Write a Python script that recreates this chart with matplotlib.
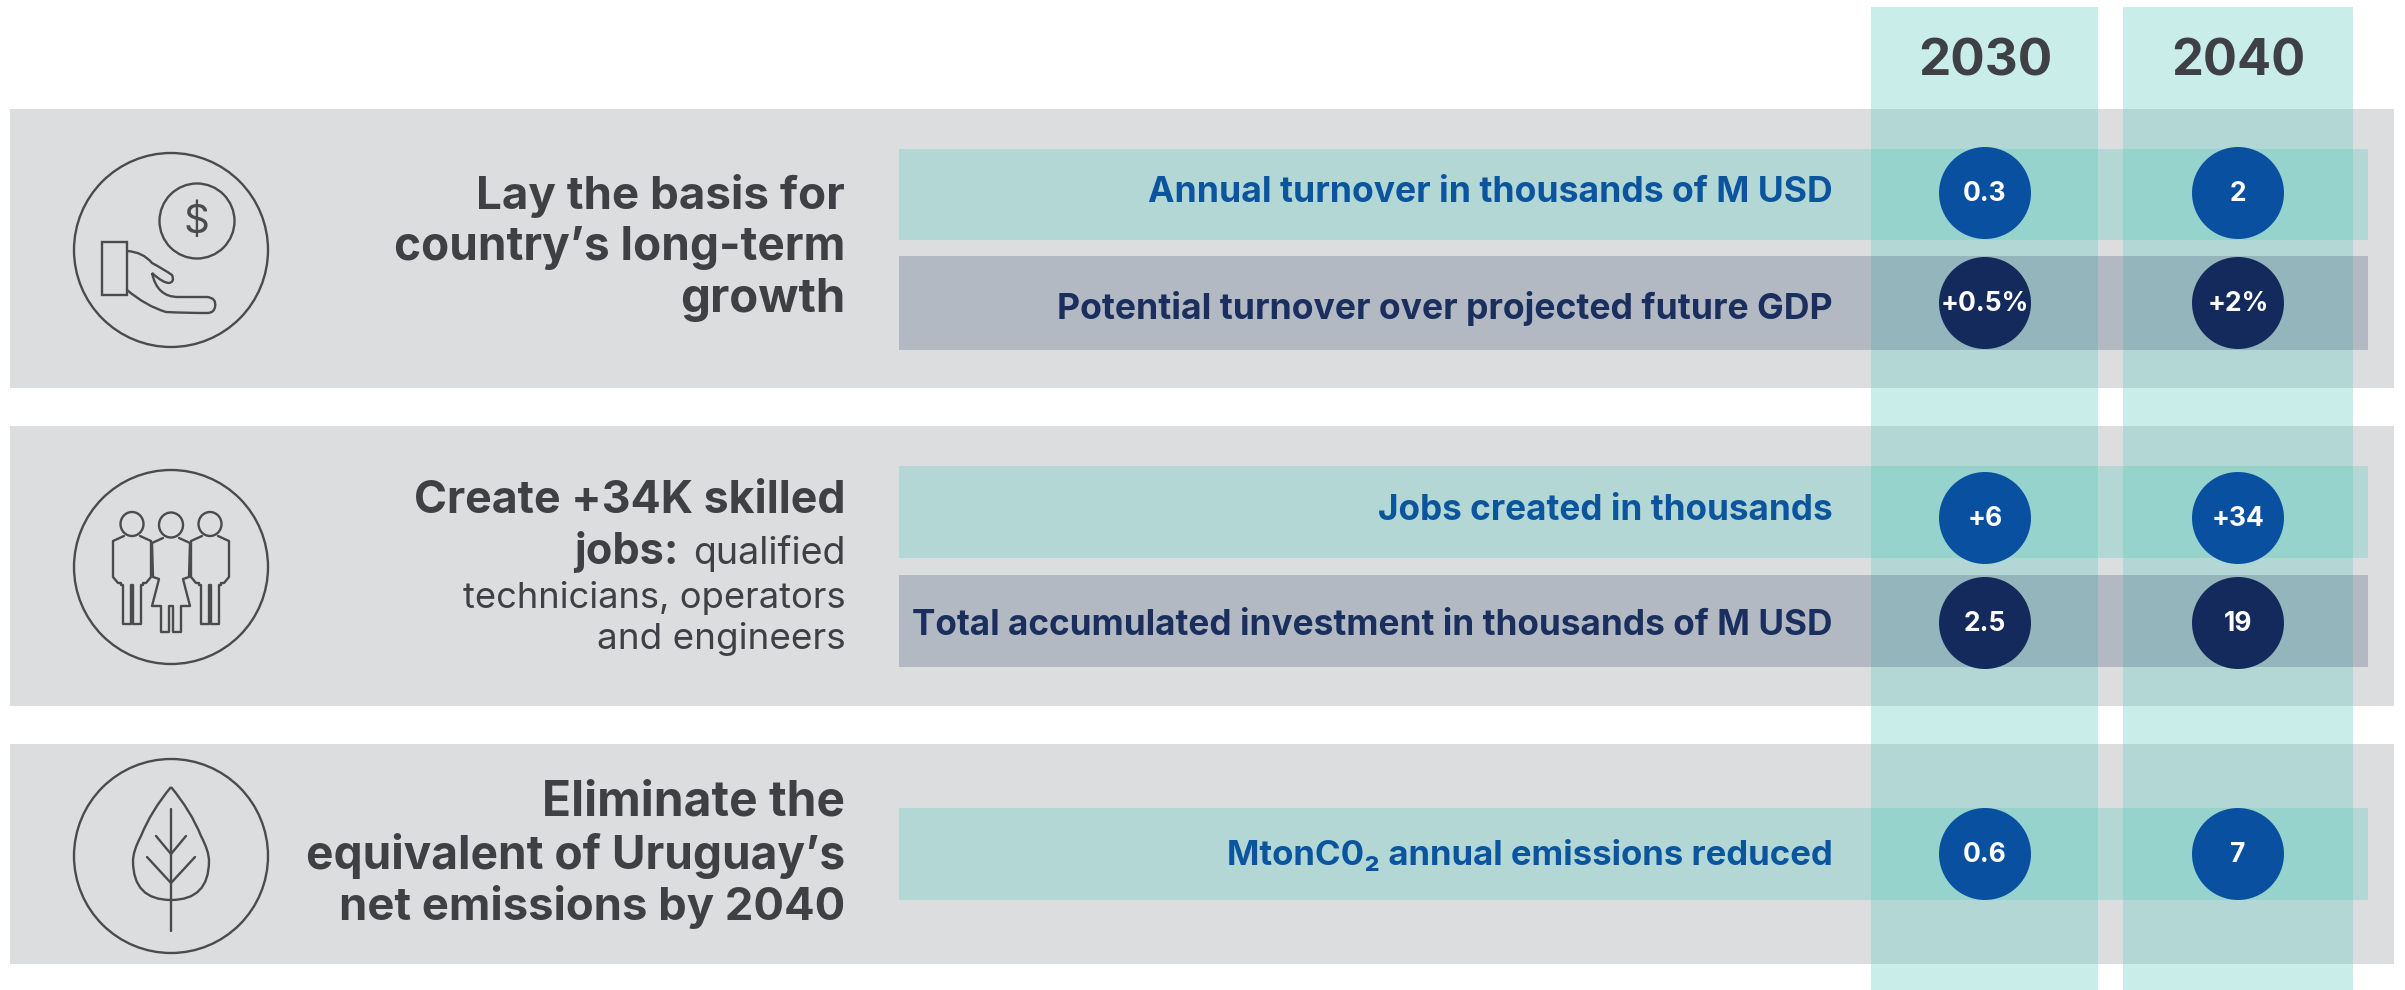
import matplotlib
matplotlib.use("Agg")
import matplotlib.pyplot as plt
from matplotlib.patches import Circle, Ellipse, Rectangle, PathPatch
from matplotlib.path import Path

plt.rcParams['font.family'] = ['Inter', 'DejaVu Sans']

# chart data
years = ["2030", "2040"]
row_labels = [
    "Annual turnover in thousands of M USD",
    "Potential turnover over projected future GDP",
    "Jobs created in thousands",
    "Total accumulated investment in thousands of M USD",
    "MtonC0₂ annual emissions reduced",
]
values_2030 = ["0.3", "+0.5%", "+6", "2.5", "0.6"]
values_2040 = ["2", "+2%", "+34", "19", "7"]
row_kinds = ["teal", "navy", "teal", "navy", "teal"]

# layout, in pixels of the picture
W, H = 2405, 990
panels_y = [(109, 388), (426, 706), (744, 964)]
icons_y = [250, 567, 856]
cols_x = [(1871, 2098), (2123, 2353)]
col_centres = [1985, 2238]
rows_y = [(149, 240), (256, 350), (466, 558), (575, 667), (808, 900)]
circles_y = [193, 303, 518, 623, 854]
label_base = [202, 319, 520, 635, 865]
label_left = [1147, 1054, 1377, 910, 1224]

GREY = "#DCDDDF"
TEAL = "#65CEC0"
NAVY_STRIP = "#536885"
DARK = "#3E4044"
LINE = "#4A4B4D"
BLUE = "#0A50A1"
NAVY = "#152A5C"

fig = plt.figure(figsize=(W / 100, H / 100), dpi=100)
ax = fig.add_axes([0, 0, 1, 1])
ax.set_xlim(0, W)
ax.set_ylim(H, 0)
ax.axis("off")
renderer = fig.canvas.get_renderer()


def fit_text(x, y, s, width, color, weight="bold", size=30, ha="right", z=10):
    # the font is not the original one, so scale it to the width in the picture
    t = ax.text(x, y, s, color=color, fontweight=weight, fontsize=size, ha=ha, va="baseline", zorder=z)
    t.set_fontsize(size * width / t.get_window_extent(renderer).width)
    return t


def stroke(cx, cy, pts, closed=False):
    xs = [cx + p[0] for p in pts]
    ys = [cy + p[1] for p in pts]
    if closed:
        xs.append(xs[0])
        ys.append(ys[0])
    ax.plot(xs, ys, color=LINE, lw=1.7, solid_joinstyle="round", solid_capstyle="round", zorder=6)


def curve(cx, cy, verts):
    # verts: start point then (control, end) pairs
    codes = [Path.MOVETO] + [Path.CURVE3] * (len(verts) - 1)
    p = Path([(cx + a, cy + b) for a, b in verts], codes)
    ax.add_patch(PathPatch(p, fc="none", ec=LINE, lw=1.7, zorder=6))


def hand_icon(cx, cy):
    ax.add_patch(Circle((cx + 26, cy - 29), 37.5, fc="none", ec=LINE, lw=1.7, zorder=6))
    ax.text(cx + 26, cy - 28, "$", color=LINE, fontsize=29, ha="center", va="center", zorder=6)
    ax.add_patch(Rectangle((cx - 69, cy - 8), 25, 53, fc="none", ec=LINE, lw=1.7, zorder=6))
    curve(cx, cy, [(-44, 1), (-28, 2), (-19, 13), (-6, 20), (1, 25), (4, 32), (-2, 33),
                   (-8, 33), (-19, 23), (-14, 47), (7, 47), (25, 47), (36, 47),
                   (46, 48), (44, 57), (43, 63), (36, 63), (14, 63), (-5, 62), (-25, 56), (-44, 40)])


def person(cx, cy):
    ax.add_patch(Ellipse((cx, cy - 43), 23, 24, fc="none", ec=LINE, lw=1.7, zorder=6))
    stroke(cx, cy, [(-8, -31), (-19, -26), (-19, 10), (-14, 16), (-11, 16), (-11, 18), (-9, 18),
                    (-9, 57), (-1, 57), (-1, 18), (1, 18), (1, 57), (9, 57), (9, 18),
                    (11, 18), (11, 16), (14, 16), (19, 10), (19, -26), (8, -31)])


def dress_person(cx, cy):
    ax.add_patch(Ellipse((cx, cy - 42), 24, 25, fc="none", ec=LINE, lw=1.7, zorder=6))
    stroke(cx, cy, [(-8, -29), (-19, -24), (-18, 10), (-12, 12), (-19, 39), (-10, 39), (-10, 65),
                    (-2, 65), (-2, 39), (2, 39), (2, 65), (10, 65), (10, 39), (19, 39),
                    (12, 12), (18, 10), (19, -24), (8, -29)])


def people_icon(cx, cy):
    person(cx - 39, cy)
    person(cx + 39, cy)
    dress_person(cx, cy)


def leaf_icon(cx, cy):
    curve(cx, cy, [(0, -69), (-20, -45), (-30, -20), (-38, -5), (-38, 5), (-38, 44), (0, 44),
                   (38, 44), (38, 5), (38, -5), (30, -20), (20, -45), (0, -69)])
    stroke(cx, cy, [(0, -47), (0, 75)])
    for top, dx, dy in [(-2, 15, -18), (27, 24, -26)]:
        stroke(cx, cy, [(-dx, top + dy), (0, top), (dx, top + dy)])


# background panels
for y0, y1 in panels_y:
    ax.add_patch(Rectangle((10, y0), 2384, y1 - y0, fc=GREY, ec="none", zorder=1))

# year columns
for (x0, x1), year, xc in zip(cols_x, years, col_centres):
    ax.add_patch(Rectangle((x0, 7), x1 - x0, H - 7, fc=TEAL, alpha=0.35, ec="none", zorder=2))
    fit_text(xc, 75, year, 134, DARK, ha="center")

# rows with their labels and the circles of values
for i, label in enumerate(row_labels):
    y0, y1 = rows_y[i]
    if row_kinds[i] == "teal":
        ax.add_patch(Rectangle((899, y0), 1469, y1 - y0, fc=TEAL, alpha=0.35, ec="none", zorder=3))
        txt_col, circ_col = "#0B559F", BLUE
    else:
        ax.add_patch(Rectangle((899, y0), 1469, y1 - y0, fc=NAVY_STRIP, alpha=0.3, ec="none", zorder=3))
        txt_col, circ_col = "#1B2F5E", NAVY
    fit_text(1833, label_base[i], label, 1833 - label_left[i], txt_col, size=24)
    for xc, val in zip(col_centres, (values_2030[i], values_2040[i])):
        ax.add_patch(Circle((xc, circles_y[i]), 46, fc=circ_col, ec="none", zorder=5))
        ax.text(xc, circles_y[i] + 1, val, color="white", fontweight="bold", fontsize=19,
                ha="center", va="center", zorder=7)

# left hand headings
fit_text(845, 209, "Lay the basis for", 369, DARK)
fit_text(845, 260, "country’s long-term", 451, DARK)
fit_text(845, 312, "growth", 165, DARK)

fit_text(845, 513, "Create +34K skilled", 432, DARK)
fit_text(678, 564, "jobs:", 104, DARK)
fit_text(846, 564, "qualified", 153, DARK, weight="normal", size=24)
fit_text(846, 608, "technicians, operators", 384, DARK, weight="normal", size=24)
fit_text(846, 649, "and engineers", 249, DARK, weight="normal", size=24)

fit_text(845, 816, "Eliminate the", 303, DARK)
fit_text(845, 869, "equivalent of Uruguay’s", 540, DARK)
fit_text(845, 920, "net emissions by 2040", 506, DARK)

# icons
for yc in icons_y:
    ax.add_patch(Circle((171, yc), 97, fc="none", ec=LINE, lw=1.7, zorder=6))
hand_icon(171, icons_y[0])
people_icon(171, icons_y[1])
leaf_icon(171, icons_y[2])

fig.savefig("out.png", dpi=100)
